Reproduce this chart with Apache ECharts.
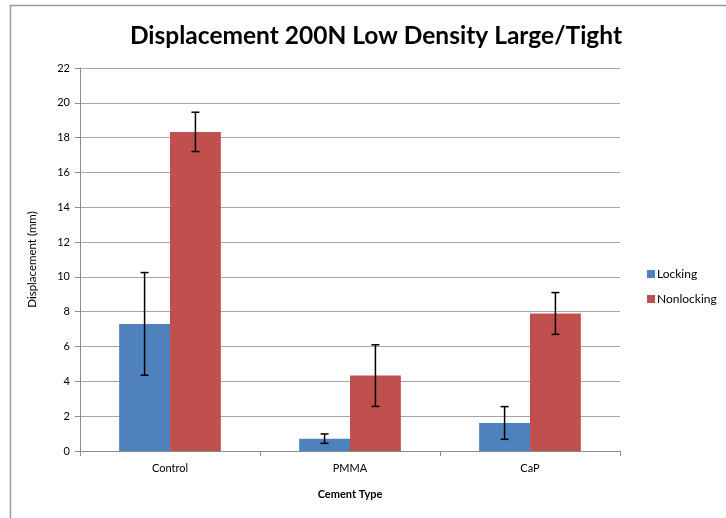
<!DOCTYPE html>
<html>
<head>
<meta charset="utf-8">
<script src="https://cdn.jsdelivr.net/npm/echarts@6/dist/echarts.min.js"></script>
<style>
  html, body { margin: 0; padding: 0; background: #fff; }
  #chart { width: 726px; height: 518px; }
</style>
</head>
<body>
<div id="chart"></div>
<script>
// Cement types on the x axis
const categories = ['Control', 'PMMA', 'CaP'];
// Mean displacement (mm) and standard deviation for each fixation type
const lockingMean = [7.3, 0.71, 1.61];
const lockingErr = [2.95, 0.27, 0.94];
const nonlockingMean = [18.33, 4.33, 7.9];
const nonlockingErr = [1.13, 1.77, 1.2];
const yTicks = { min: 0, max: 22, interval: 2 };

const BAR_GAP_RATIO = 0.435; // share of each category band left empty
const FONT = 'Lato, "Open Sans", sans-serif';

// Error bar drawn at the centre of one bar in a two-bar cluster
function errorBarRenderer(side) {
  return function (params, api) {
    const catIdx = api.value(0);
    const mean = api.value(1);
    const err = api.value(2);
    const band = api.size([1, 0])[0];
    const barW = band * (1 - BAR_GAP_RATIO) / 2;
    const center = api.coord([catIdx, mean]);
    const x = center[0] + side * barW / 2;
    const top = api.coord([catIdx, mean + err])[1];
    const bottom = api.coord([catIdx, mean - err])[1];
    const cap = 4;
    const style = { stroke: '#000', lineWidth: 1.5 };
    return {
      type: 'group',
      children: [
        { type: 'line', shape: { x1: x, y1: top, x2: x, y2: bottom }, style },
        { type: 'line', shape: { x1: x - cap, y1: top, x2: x + cap, y2: top }, style },
        { type: 'line', shape: { x1: x - cap, y1: bottom, x2: x + cap, y2: bottom }, style }
      ]
    };
  };
}

const chart = echarts.init(document.getElementById('chart'));
chart.setOption({
  animation: false,
  backgroundColor: '#fff',
  title: {
    text: 'Displacement 200N Low Density Large/Tight',
    left: 371,
    textAlign: 'center',
    top: 19,
    textStyle: { fontFamily: FONT, fontSize: 24.5, fontWeight: 'bold', color: '#000' }
  },
  graphic: [
    { type: 'line', shape: { x1: 10, y1: 5.5, x2: 726, y2: 5.5 }, style: { stroke: '#9a9a9a', lineWidth: 1.5 } },
    { type: 'line', shape: { x1: 10.5, y1: 5, x2: 10.5, y2: 518 }, style: { stroke: '#9a9a9a', lineWidth: 1.5 } }
  ],
  legend: {
    orient: 'vertical',
    left: 642,
    top: 263,
    itemWidth: 8,
    itemHeight: 8,
    itemGap: 13,
    icon: 'rect',
    textStyle: { fontFamily: FONT, fontSize: 12, color: '#000', padding: [0, 0, 0, -3] },
    data: ['Locking', 'Nonlocking']
  },
  grid: { left: 80, right: 106, top: 68, bottom: 67 },
  xAxis: {
    type: 'category',
    data: categories,
    name: 'Cement Type',
    nameLocation: 'middle',
    nameGap: 38,
    nameTextStyle: { fontFamily: FONT, fontSize: 11, fontWeight: 'bold', color: '#000' },
    axisLine: { lineStyle: { color: '#8c8c8c', width: 1 } },
    axisTick: { show: true, length: 5, alignWithLabel: false, lineStyle: { color: '#8c8c8c' } },
    axisLabel: { fontFamily: FONT, fontSize: 11, color: '#000', margin: 12 }
  },
  yAxis: {
    type: 'value',
    min: yTicks.min,
    max: yTicks.max,
    interval: yTicks.interval,
    name: 'Displacement (mm)',
    nameLocation: 'middle',
    nameGap: 42,
    nameTextStyle: { fontFamily: FONT, fontSize: 11.5, color: '#000' },
    axisLine: { show: true, lineStyle: { color: '#8c8c8c', width: 1 } },
    axisTick: { show: true, length: 5, lineStyle: { color: '#8c8c8c' } },
    axisLabel: { fontFamily: FONT, fontSize: 11, color: '#000', margin: 10 },
    splitLine: { lineStyle: { color: '#a6a6a6', width: 1 } }
  },
  series: [
    {
      name: 'Locking',
      type: 'bar',
      data: lockingMean,
      barGap: '0%',
      barCategoryGap: (BAR_GAP_RATIO * 100) + '%',
      itemStyle: { color: '#4f81bd' }
    },
    {
      name: 'Nonlocking',
      type: 'bar',
      data: nonlockingMean,
      barGap: '0%',
      barCategoryGap: (BAR_GAP_RATIO * 100) + '%',
      itemStyle: { color: '#c0504d' }
    },
    {
      type: 'custom',
      name: 'Locking error',
      renderItem: errorBarRenderer(-1),
      data: categories.map((c, i) => [i, lockingMean[i], lockingErr[i]]),
      encode: { x: 0, y: 1 },
      z: 10
    },
    {
      type: 'custom',
      name: 'Nonlocking error',
      renderItem: errorBarRenderer(1),
      data: categories.map((c, i) => [i, nonlockingMean[i], nonlockingErr[i]]),
      encode: { x: 0, y: 1 },
      z: 10
    }
  ]
});
</script>
</body>
</html>
